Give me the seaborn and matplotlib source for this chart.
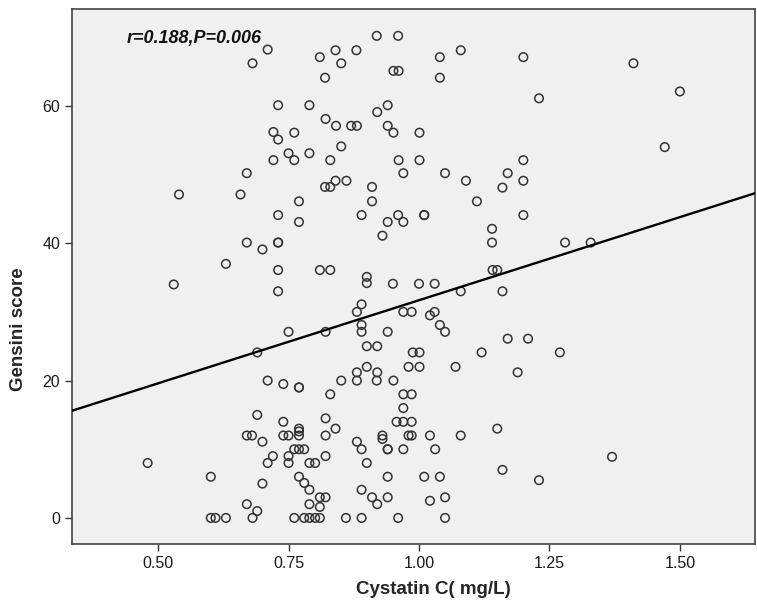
import matplotlib
matplotlib.use("Agg")
import matplotlib.pyplot as plt
import seaborn as sns
import numpy as np
import pandas as pd

# Data (Cystatin C in mg/L, Gensini score)
cystatin = [
    0.710, 0.681, 0.919, 0.960, 0.810, 0.840, 0.880, 0.851, 0.820, 0.951,
    0.961, 0.730, 0.790, 0.940, 0.920, 0.821, 0.841, 0.870, 0.881, 0.940,
    0.951, 0.721, 0.730, 0.761, 0.851, 0.750, 0.761, 0.721, 0.790, 0.830,
    0.961, 0.970, 0.670, 0.820, 0.830, 0.840, 0.861, 0.910, 1.040, 1.080,
    1.200, 1.040, 1.230, 1.001, 1.001, 1.200, 1.050, 1.090, 1.170, 1.200,
    1.160, 1.411, 1.500, 1.471, 0.540, 0.658, 0.630, 0.530, 0.770, 0.910,
    0.730, 0.770, 0.890, 0.940, 0.960, 0.970, 0.930, 0.670, 0.700, 0.730,
    0.730, 0.730, 0.810, 0.830, 0.900, 0.900, 0.950, 0.730, 0.890, 0.881,
    0.970, 0.986, 0.890, 0.890, 0.750, 0.821, 0.940, 0.900, 0.920, 0.690,
    0.988, 0.980, 0.900, 0.881, 0.920, 1.111, 1.010, 1.010, 1.200, 1.140,
    1.140, 1.280, 1.141, 1.150, 1.000, 1.030, 1.080, 1.160, 1.030, 1.021,
    1.040, 1.050, 1.170, 1.209, 1.001, 1.120, 1.270, 1.001, 1.070, 1.189,
    1.329,
    0.480, 0.601, 0.601, 0.610, 0.630, 0.710, 0.740, 0.770, 0.770, 0.851,
    0.881, 0.919, 0.951, 0.830, 0.970, 0.986, 0.970, 0.690, 0.740, 0.770,
    0.821, 0.840, 0.957, 0.970, 0.986, 0.670, 0.680, 0.700, 0.740, 0.750,
    0.770, 0.770, 0.821, 0.881, 0.890, 0.930, 0.930, 0.940, 0.940, 0.970,
    0.980, 0.986, 0.761, 0.770, 0.780, 0.720, 0.710, 0.750, 0.750, 0.790,
    0.801, 0.821, 0.900, 0.700, 0.770, 0.780, 0.790, 0.810, 0.821, 0.790,
    0.810, 0.940, 0.890, 0.910, 0.920, 0.940, 0.670, 0.690, 0.681, 0.761,
    0.780, 0.790, 0.801, 0.810, 0.860, 0.890, 0.960, 1.021, 1.080, 1.150,
    1.031, 1.160, 1.230, 1.010, 1.040, 1.021, 1.050, 1.050, 1.370,
]
gensini = [
    68.2, 66.2, 70.2, 70.2, 67.1, 68.1, 68.1, 66.2, 64.1, 65.1,
    65.1, 60.1, 60.1, 60.1, 59.1, 58.1, 57.1, 57.1, 57.1, 57.1,
    56.1, 56.2, 55.1, 56.1, 54.1, 53.1, 52.1, 52.1, 53.1, 52.1,
    52.1, 50.2, 50.2, 48.2, 48.2, 49.1, 49.1, 48.2, 67.1, 68.1,
    67.1, 64.1, 61.1, 56.1, 52.1, 52.1, 50.2, 49.1, 50.2, 49.1,
    48.1, 66.2, 62.1, 54.0, 47.1, 47.1, 37.0, 34.0, 46.1, 46.1,
    44.1, 43.1, 44.1, 43.1, 44.1, 43.1, 41.1, 40.1, 39.1, 40.1,
    40.1, 36.1, 36.1, 36.1, 35.1, 34.2, 34.1, 33.0, 31.1, 30.0,
    30.0, 30.0, 28.1, 27.1, 27.1, 27.1, 27.1, 25.0, 25.0, 24.1,
    24.1, 22.0, 22.0, 21.2, 21.2, 46.1, 44.1, 44.1, 44.1, 42.1,
    40.1, 40.1, 36.1, 36.1, 34.1, 34.1, 33.0, 33.0, 30.0, 29.5,
    28.1, 27.1, 26.1, 26.1, 24.1, 24.1, 24.1, 22.0, 22.0, 21.2,
    40.1,
    8.0, 6.0, 0.0, 0.0, 0.0, 20.0, 19.5, 19.0, 19.0, 20.0,
    20.0, 20.0, 20.0, 18.0, 18.0, 18.0, 16.0, 15.0, 14.0, 13.0,
    14.5, 13.0, 14.0, 14.0, 14.0, 12.0, 12.0, 11.1, 12.0, 12.0,
    12.0, 12.6, 12.0, 11.1, 10.0, 12.0, 11.5, 10.0, 10.0, 10.0,
    12.0, 12.0, 10.0, 10.0, 10.0, 9.0, 8.0, 9.0, 8.0, 8.0,
    8.0, 9.0, 8.0, 5.0, 6.0, 5.1, 4.1, 3.0, 3.0, 2.0,
    1.6, 6.0, 4.1, 3.0, 2.0, 3.0, 2.0, 1.0, 0.0, 0.0,
    0.0, 0.0, 0.0, 0.0, 0.0, 0.0, 0.0, 12.0, 12.0, 13.0,
    10.0, 7.0, 5.5, 6.0, 6.0, 2.5, 3.0, 0.0, 8.9,
]
# Fitted line as shown in the reference
fit_intercept = 7.5
fit_slope = 24.2
x_ticks = [0.50, 0.75, 1.00, 1.25, 1.50]
x_tick_labels = ["0.50", "0.75", "1.00", "1.25", "1.50"]
y_ticks = [0, 20, 40, 60]
annotation = "r=0.188,P=0.006"

df = pd.DataFrame({"Cystatin C": cystatin, "Gensini": gensini})

sns.set_style("ticks")
plt.rcParams["font.family"] = ["Liberation Sans", "DejaVu Sans"]

fig = plt.figure(figsize=(7.57, 6.04), dpi=100)
ax = fig.add_axes([0.0951, 0.0993, 0.9023, 0.8857])
ax.set_facecolor("#f0f0f0")

xlim = (0.335, 1.644)
ylim = (-3.8, 74.1)

sns.scatterplot(data=df, x="Cystatin C", y="Gensini", ax=ax, s=38,
                marker="o", facecolor="none", edgecolor="#333333",
                linewidth=1.1, zorder=3)

line_x = np.array(xlim)
line_df = pd.DataFrame({"x": line_x, "y": fit_intercept + fit_slope * line_x})
sns.lineplot(data=line_df, x="x", y="y", ax=ax, color="black", linewidth=1.7, zorder=4)

ax.set_xlim(*xlim)
ax.set_ylim(*ylim)
ax.set_xticks(x_ticks)
ax.set_xticklabels(x_tick_labels)
ax.set_yticks(y_ticks)
ax.tick_params(axis="both", labelsize=11.5, length=5, width=1, color="#333333",
               labelcolor="#1a1a1a", direction="out")

for sp in ax.spines.values():
    sp.set_visible(True)
    sp.set_color("#444444")
    sp.set_linewidth(1.2)

ax.set_xlabel("Cystatin C( mg/L)", fontsize=13.5, fontweight="bold", labelpad=8)
ax.set_ylabel("Gensini score", fontsize=13.5, fontweight="bold", labelpad=10)
ax.xaxis.set_label_coords(0.529, -0.069)
ax.yaxis.set_label_coords(-0.066, 0.402)

ax.text(0.08, 0.945, annotation, transform=ax.transAxes, fontsize=13,
        fontweight="bold", fontstyle="italic", va="center", ha="left", color="#111111")

fig.savefig("out.png", dpi=100)
